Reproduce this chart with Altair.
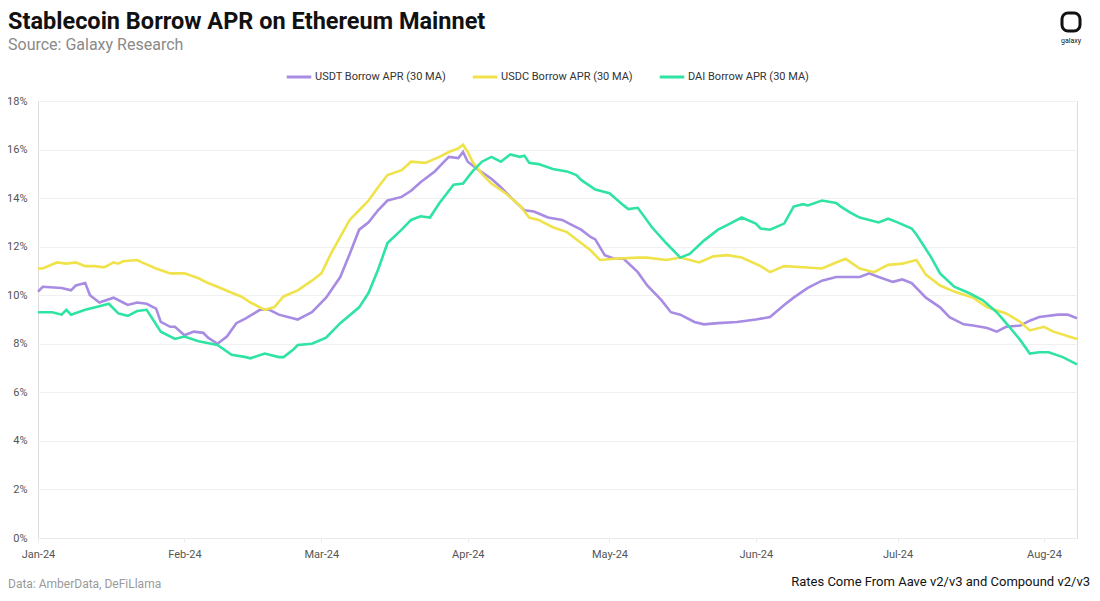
import altair as alt
import pandas as pd

# ---- data (day offset from 2024-01-01, APR in %) ----
usdt_days = [0, 1, 5, 7, 8, 10, 11, 13, 16, 18, 19, 21, 23, 25, 26, 28, 29, 31, 33, 35, 36, 38, 40, 42, 44, 47, 49, 51, 55, 57, 58, 61, 64, 66, 68, 70, 72, 74, 77, 79, 81, 84, 86, 87, 89, 90, 91, 93, 96, 98, 100, 103, 105, 108, 111, 113, 115, 117, 118, 120, 122, 124, 127, 129, 132, 134, 136, 139, 141, 144, 148, 152, 155, 158, 160, 163, 166, 169, 171, 174, 176, 178, 181, 183, 185, 188, 191, 193, 196, 198, 201, 203, 205, 208, 210, 212, 216, 218, 220]
usdt_vals = [10.15, 10.35, 10.3, 10.2, 10.4, 10.5, 10.0, 9.7, 9.9, 9.7, 9.6, 9.7, 9.65, 9.45, 8.9, 8.7, 8.7, 8.35, 8.5, 8.45, 8.25, 8.0, 8.3, 8.85, 9.05, 9.4, 9.4, 9.2, 9.0, 9.2, 9.3, 9.9, 10.75, 11.7, 12.7, 13.0, 13.5, 13.9, 14.05, 14.3, 14.65, 15.1, 15.5, 15.7, 15.65, 15.9, 15.5, 15.2, 14.8, 14.45, 14.05, 13.5, 13.45, 13.2, 13.1, 12.9, 12.7, 12.4, 12.3, 11.65, 11.5, 11.5, 10.95, 10.4, 9.8, 9.3, 9.2, 8.9, 8.8, 8.85, 8.9, 9.0, 9.1, 9.6, 9.9, 10.3, 10.6, 10.75, 10.75, 10.75, 10.9, 10.75, 10.55, 10.65, 10.5, 9.9, 9.5, 9.1, 8.8, 8.75, 8.65, 8.5, 8.7, 8.75, 8.95, 9.1, 9.2, 9.2, 9.05]

usdc_days = [0, 1, 4, 6, 8, 10, 12, 14, 16, 17, 18, 21, 22, 25, 28, 31, 34, 36, 38, 41, 43, 45, 48, 50, 52, 55, 58, 60, 62, 64, 66, 68, 70, 72, 74, 77, 79, 82, 85, 87, 89, 90, 91, 92, 94, 96, 99, 102, 104, 106, 109, 112, 115, 117, 119, 122, 127, 129, 133, 136, 140, 143, 146, 149, 153, 155, 158, 162, 166, 169, 171, 174, 177, 180, 183, 186, 188, 191, 194, 198, 201, 205, 208, 210, 213, 215, 220]
usdc_vals = [11.1, 11.1, 11.35, 11.3, 11.35, 11.2, 11.2, 11.15, 11.35, 11.3, 11.4, 11.45, 11.35, 11.1, 10.9, 10.9, 10.7, 10.5, 10.35, 10.1, 9.95, 9.7, 9.4, 9.5, 9.95, 10.2, 10.6, 10.9, 11.7, 12.4, 13.1, 13.5, 13.9, 14.45, 14.95, 15.15, 15.5, 15.45, 15.7, 15.9, 16.05, 16.2, 15.9, 15.5, 15.0, 14.6, 14.2, 13.7, 13.2, 13.1, 12.8, 12.6, 12.15, 11.85, 11.45, 11.5, 11.55, 11.55, 11.45, 11.55, 11.35, 11.6, 11.65, 11.55, 11.2, 10.95, 11.2, 11.15, 11.1, 11.35, 11.5, 11.1, 10.95, 11.25, 11.3, 11.45, 10.85, 10.4, 10.15, 9.9, 9.5, 9.25, 8.9, 8.55, 8.7, 8.5, 8.2]

dai_days = [0, 3, 5, 6, 7, 10, 13, 15, 17, 19, 21, 23, 24, 26, 29, 31, 34, 38, 41, 44, 45, 48, 51, 52, 54, 55, 58, 61, 64, 68, 70, 72, 74, 77, 79, 81, 83, 85, 88, 90, 92, 94, 96, 98, 100, 102, 103, 104, 106, 109, 112, 114, 115, 118, 121, 124, 125, 127, 130, 133, 136, 138, 141, 144, 146, 149, 152, 153, 155, 158, 160, 162, 163, 166, 169, 170, 172, 174, 178, 180, 182, 185, 186, 189, 191, 194, 197, 200, 203, 205, 208, 210, 212, 214, 217, 220]
dai_vals = [9.3, 9.3, 9.2, 9.4, 9.2, 9.4, 9.55, 9.65, 9.25, 9.15, 9.35, 9.4, 9.1, 8.5, 8.2, 8.3, 8.1, 7.95, 7.55, 7.45, 7.4, 7.6, 7.45, 7.45, 7.75, 7.95, 8.0, 8.25, 8.85, 9.5, 10.1, 11.05, 12.15, 12.7, 13.1, 13.25, 13.2, 13.8, 14.55, 14.6, 15.1, 15.5, 15.7, 15.5, 15.8, 15.7, 15.75, 15.45, 15.4, 15.2, 15.1, 14.95, 14.75, 14.35, 14.2, 13.7, 13.55, 13.6, 12.8, 12.15, 11.55, 11.7, 12.25, 12.7, 12.9, 13.2, 12.95, 12.75, 12.7, 12.95, 13.65, 13.75, 13.7, 13.9, 13.8, 13.65, 13.4, 13.2, 13.0, 13.15, 13.0, 12.75, 12.5, 11.6, 10.9, 10.35, 10.1, 9.8, 9.3, 8.85, 8.15, 7.6, 7.65, 7.65, 7.45, 7.15]

series_names = ["USDT Borrow APR (30 MA)", "USDC Borrow APR (30 MA)", "DAI Borrow APR (30 MA)"]
series_colors = ["#A88BE3", "#F0E24A", "#2FE3A3"]

start = pd.Timestamp("2024-01-01")
frames = []
for name, days, vals in zip(series_names, [usdt_days, usdc_days, dai_days], [usdt_vals, usdc_vals, dai_vals]):
    frames.append(pd.DataFrame({
        "date": start + pd.to_timedelta(days, unit="D"),
        "apr": vals,
        "series": name,
    }))
df = pd.concat(frames, ignore_index=True)

W, H = 1039, 437
one = pd.DataFrame({"a": [0]})

lines = alt.Chart(df).mark_line(strokeWidth=2.6).encode(
    x=alt.X("date:T",
            scale=alt.Scale(domain=["2024-01-01", "2024-08-08"]),
            axis=alt.Axis(title=None, format="%b-%y", tickCount={"interval": "month", "step": 1},
                          grid=False, domain=True, domainColor="#ebebeb", ticks=True,
                          tickColor="#ebebeb", tickSize=4, labelColor="#555555",
                          labelFontSize=11, labelPadding=6, labelFont="Roboto",
                          labelFlush=False)),
    y=alt.Y("apr:Q",
            scale=alt.Scale(domain=[0, 18], nice=False),
            axis=alt.Axis(title=None, values=[0, 2, 4, 6, 8, 10, 12, 14, 16, 18],
                          labelExpr="datum.value + '%'", grid=True, gridColor="#f0f0f0",
                          domain=False, ticks=False, labelColor="#555555", labelFontSize=11,
                          labelPadding=11, labelFont="Roboto")),
    color=alt.Color("series:N",
                    scale=alt.Scale(domain=series_names, range=series_colors),
                    legend=alt.Legend(title=None, orient="none", direction="horizontal",
                                      legendX=247, legendY=-38, symbolType="stroke",
                                      symbolSize=600, symbolStrokeWidth=3,
                                      labelFontSize=11, labelColor="#333333",
                                      labelFont="Roboto", columnPadding=20, labelOffset=2)),
    order=alt.Order("date:T"),
)

title = alt.Chart(one).mark_text(align="left", baseline="alphabetic", font="Roboto",
                                  fontSize=23.5, fontWeight="bold", color="#111111").encode(
    x=alt.value(-30), y=alt.value(-72), text=alt.value("Stablecoin Borrow APR on Ethereum Mainnet"))

subtitle = alt.Chart(one).mark_text(align="left", baseline="alphabetic", font="Roboto",
                                     fontSize=16, color="#8a8a8a").encode(
    x=alt.value(-30), y=alt.value(-51), text=alt.value("Source: Galaxy Research"))

footer_left = alt.Chart(one).mark_text(align="left", baseline="alphabetic", font="Roboto",
                                        fontSize=12, color="#9a9a9a").encode(
    x=alt.value(-30), y=alt.value(487), text=alt.value("Data: AmberData, DeFiLlama"))

footer_right = alt.Chart(one).mark_text(align="right", baseline="alphabetic", font="Roboto",
                                         fontSize=13, color="#111111").encode(
    x=alt.value(1052), y=alt.value(485), text=alt.value("Rates Come From Aave v2/v3 and Compound v2/v3"))

logo_box = alt.Chart(one).mark_rect(cornerRadius=6, fill="white", stroke="#111111",
                                    strokeWidth=3).encode(
    x=alt.value(1024), x2=alt.value(1042), y=alt.value(-88), y2=alt.value(-70))

logo_text = alt.Chart(one).mark_text(align="center", baseline="alphabetic", font="Roboto",
                                      fontSize=7, color="#111111").encode(
    x=alt.value(1033), y=alt.value(-58), text=alt.value("galaxy"))

chart = alt.layer(lines, title, subtitle, footer_left, footer_right, logo_box, logo_text).properties(
    width=W, height=H,
    autosize=alt.AutoSizeParams(type="none"),
    padding={"left": 30, "top": 93, "right": 15, "bottom": 55},
).configure_view(stroke=None).configure(background="white")

chart.save("out.html", embed_options={"renderer": "svg", "actions": False})
